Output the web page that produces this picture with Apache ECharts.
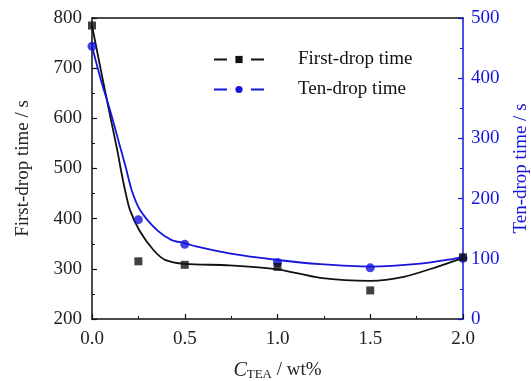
<!DOCTYPE html>
<html>
<head>
<meta charset="utf-8">
<script src="https://cdn.jsdelivr.net/npm/echarts@6/dist/echarts.min.js"></script>
<style>html,body{margin:0;padding:0;background:#fff}#c{width:531px;height:381px}</style>
</head>
<body>
<div id="c"></div>
<script>
// Measured points
const xPts = [0, 0.25, 0.5, 1.0, 1.5, 2.0];
const firstDrop = [785, 315, 308, 304, 257, 323];
const tenDrop = [453, 165, 124, 94, 85, 101];
// Fitted curves
const firstCurveX = [0, 0.05, 0.1, 0.136, 0.156, 0.178, 0.205, 0.255, 0.33, 0.394, 0.5, 0.74, 1.0, 1.23, 1.5, 1.68, 1.86, 2.0];
const firstCurve = [785, 692, 601, 537, 497, 457, 417, 377, 338, 318, 310, 307, 299, 282, 276, 284, 304, 322];
const tenCurveX = [0, 0.05, 0.1, 0.156, 0.182, 0.214, 0.259, 0.349, 0.43, 0.5, 0.555, 0.74, 1.0, 1.23, 1.5, 1.77, 1.95, 2.0];
const tenCurve = [453, 395, 344, 281, 252, 214, 181, 148, 131, 126, 121, 109, 98, 91, 87, 92, 100, 103];
const xTicks = ['0.0', '0.5', '1.0', '1.5', '2.0'];

const BLUE = '#1414dc';
const FONT = 'Liberation Serif';
const pair = (xs, ys) => xs.map((x, i) => [x, ys[i]]);

const chart = echarts.init(document.getElementById('c'));
chart.setOption({
  animation: false,
  textStyle: {fontFamily: FONT},
  grid: {left: 92, right: 68, top: 18, bottom: 62, containLabel: false, outerBoundsMode: 'none'},
  legend: {
    orient: 'vertical', left: 208, top: 45, itemGap: 11,
    itemWidth: 50, itemHeight: 9,
    data: [
      {name: 'First-drop time', lineStyle: {type: [13, 24], width: 2}},
      {name: 'Ten-drop time', lineStyle: {type: [13, 24], width: 2}}
    ],
    textStyle: {fontFamily: FONT, fontSize: 19, color: '#111', padding: [0, 0, 0, 29]}
  },
  xAxis: [{
    type: 'value', min: 0, max: 2, interval: 0.5,
    axisLine: {onZero: false, lineStyle: {color: '#111', width: 1.5}},
    axisTick: {inside: true, length: 5, lineStyle: {color: '#111', width: 1.2}},
    minorTick: {show: true, splitNumber: 2, length: 3, lineStyle: {color: '#111'}},
    splitLine: {show: false},
    axisLabel: {fontSize: 19, color: '#222', margin: 11, formatter: v => xTicks[Math.round(v / 0.5)]},
    name: '{i|C}{s|TEA}{n| / wt%}', nameLocation: 'middle', nameGap: 41,
    nameTextStyle: {rich: {
      i: {fontFamily: FONT, fontStyle: 'italic', fontSize: 20, color: '#222'},
      s: {fontFamily: FONT, fontSize: 13, color: '#222', padding: [8, 0, 0, 0]},
      n: {fontFamily: FONT, fontSize: 19, color: '#222'}
    }}
  }, {
    type: 'value', position: 'top', min: 0, max: 2,
    axisLine: {show: true, onZero: false, lineStyle: {color: '#111', width: 1.5}},
    axisTick: {show: false}, axisLabel: {show: false}, splitLine: {show: false}
  }],
  yAxis: [{
    type: 'value', min: 200, max: 800, interval: 100, position: 'left',
    axisLine: {show: true, onZero: false, lineStyle: {color: '#111', width: 1.5}},
    axisTick: {show: true, inside: true, length: 5, lineStyle: {color: '#111', width: 1.2}},
    minorTick: {show: true, splitNumber: 2, length: 3, lineStyle: {color: '#111'}},
    splitLine: {show: false},
    axisLabel: {fontSize: 19, color: '#222', margin: 10},
    name: 'First-drop time / s', nameLocation: 'middle', nameGap: 59,
    nameTextStyle: {fontSize: 19, color: '#222'}
  }, {
    type: 'value', min: 0, max: 500, interval: 100, position: 'right',
    axisLine: {show: true, onZero: false, lineStyle: {color: BLUE, width: 1.5}},
    axisTick: {show: true, inside: true, length: 5, lineStyle: {color: BLUE, width: 1.2}},
    minorTick: {show: true, splitNumber: 2, length: 3, lineStyle: {color: BLUE}},
    splitLine: {show: false},
    axisLabel: {fontSize: 19, color: BLUE, margin: 8},
    name: 'Ten-drop time / s', nameLocation: 'middle', nameGap: 49, nameRotate: 90,
    nameTextStyle: {fontSize: 19, color: BLUE}
  }],
  series: [{
    name: 'First-drop time', type: 'line', xAxisIndex: 0, yAxisIndex: 0,
    data: pair(firstCurveX, firstCurve), smooth: 0.3, showSymbol: false,
    symbol: 'rect', symbolSize: 7,
    itemStyle: {color: '#111'}, lineStyle: {color: '#111', width: 1.8}, z: 2
  }, {
    name: 'Ten-drop time', type: 'line', xAxisIndex: 0, yAxisIndex: 1,
    data: pair(tenCurveX, tenCurve), smooth: 0.3, showSymbol: false,
    symbol: 'circle', symbolSize: 8,
    itemStyle: {color: BLUE}, lineStyle: {color: BLUE, width: 1.8}, z: 2
  }, {
    name: 'fd-pts', type: 'scatter', xAxisIndex: 0, yAxisIndex: 0,
    data: pair(xPts, firstDrop), symbol: 'rect', symbolSize: 8,
    itemStyle: {color: '#111'}, z: 4
  }, {
    name: 'td-pts', type: 'scatter', xAxisIndex: 0, yAxisIndex: 1,
    data: pair(xPts, tenDrop), symbol: 'circle', symbolSize: 9,
    itemStyle: {color: BLUE}, z: 3
  }]
});
</script>
</body>
</html>
